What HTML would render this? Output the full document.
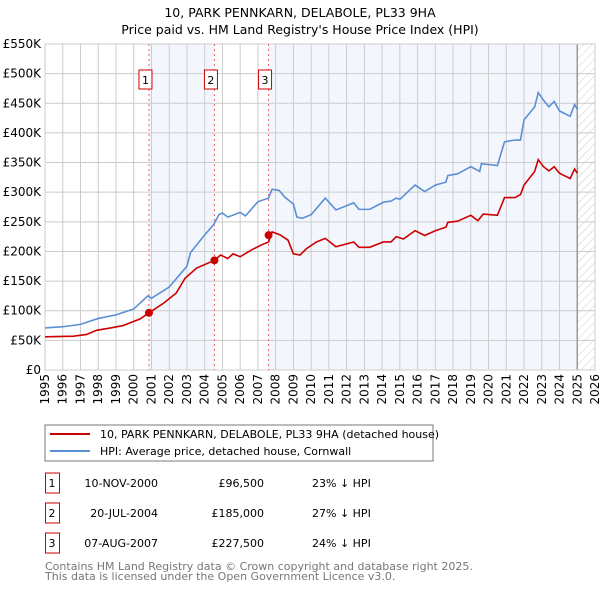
<!DOCTYPE html>
<html><head><meta charset="utf-8"><style>
body{margin:0;background:#fff}
svg text{font-family:"DejaVu Sans","Liberation Sans",sans-serif}
</style></head><body>
<svg id="chart" width="600" height="590" viewBox="0 0 600 590">
<text x="300" y="17" text-anchor="middle" font-size="12.5">10, PARK PENNKARN, DELABOLE, PL33 9HA</text>
<text x="300" y="34" text-anchor="middle" font-size="12.5">Price paid vs. HM Land Registry's House Price Index (HPI)</text>
<g id="plot"></g>
<rect x="45" y="425" width="388" height="36" fill="#fff" stroke="#777"/>
<line x1="50" y1="434" x2="90" y2="434" stroke="#cc0000" stroke-width="2"/>
<text x="100" y="438" font-size="11">10, PARK PENNKARN, DELABOLE, PL33 9HA (detached house)</text>
<line x1="50" y1="451" x2="90" y2="451" stroke="#5b8fd4" stroke-width="2"/>
<text x="100" y="455" font-size="11">HPI: Average price, detached house, Cornwall</text>
<g id="table" font-size="11"></g>
<text x="45" y="570" font-size="11" fill="#777">Contains HM Land Registry data © Crown copyright and database right 2025.</text>
<text x="45" y="580" font-size="11" fill="#777">This data is licensed under the Open Government Licence v3.0.</text>
</svg>
<script>
const hpiYears=[1995,1996,1997,1998,1999,2000,2000.8,2001,2002,2003,2003.2,2004,2004.5,2004.8,2005,2005.3,2006,2006.3,2007,2007.6,2007.8,2008.2,2008.5,2009,2009.2,2009.5,2010,2010.8,2011.4,2012.4,2012.7,2013.3,2014.07,2014.5,2014.8,2015,2015.86,2016.4,2017,2017.6,2017.7,2018.25,2019,2019.5,2019.6,2020.5,2020.9,2021.5,2021.8,2022,2022.6,2022.8,2023.1,2023.4,2023.7,2024,2024.6,2024.85,2025];
const hpiValues=[71,73,77,87,93,103,125,121,140,175,198,228,245,262,265,258,266,260,284,290,305,303,292,280,258,256,262,290,270,282,271,271,283,285,290,288,312,301,312,317,328,331,343,335,348,345,385,388,388,422,444,468,455,444,453,437,428,448,440];
const redYears=[1995,1996.6,1997.35,1997.9,1998.7,1999.4,2000.35,2000.86,2001.7,2002.4,2002.9,2003.55,2004.55,2004.9,2005.3,2005.6,2006,2006.6,2007.2,2007.6,2007.8,2008.25,2008.7,2009,2009.37,2009.75,2010.3,2010.8,2011.4,2012.4,2012.7,2013.3,2014.07,2014.5,2014.8,2015.2,2015.86,2016.4,2017,2017.6,2017.7,2018.25,2019,2019.4,2019.7,2020.5,2020.9,2021.5,2021.8,2022,2022.6,2022.8,2023.1,2023.4,2023.7,2024,2024.6,2024.85,2025];
const redValues=[56,57,60,67,71,75,86,96.5,113,130,155,172,185,194,188,196,191,202,211,216,233,228,219,196,194,205,216,222,208,216,207,207,216,216,225,221,235,227,235,241,249,251,261,252,263,261,291,291,296,312,335,355,343,336,343,332,323,339,332];
const saleYears=[2000.86,2004.55,2007.6];
const saleValues=[96.5,185,227.5];
const saleLabels=["1","2","3"];
const saleDates=["10-NOV-2000","20-JUL-2004","07-AUG-2007"];
const salePrices=["£96,500","£185,000","£227,500"];
const saleDiffs=["23% ↓ HPI","27% ↓ HPI","24% ↓ HPI"];
const yTicks=[0,50,100,150,200,250,300,350,400,450,500,550];
const yTickLabels=["£0","£50K","£100K","£150K","£200K","£250K","£300K","£350K","£400K","£450K","£500K","£550K"];
const xTicks=[1995,1996,1997,1998,1999,2000,2001,2002,2003,2004,2005,2006,2007,2008,2009,2010,2011,2012,2013,2014,2015,2016,2017,2018,2019,2020,2021,2022,2023,2024,2025,2026];
const dataEnd=2025.0;

const L=45,R=595,T=44,B=370;
const X=y=>L+(y-1995)/(2026-1995)*(R-L);
const Y=v=>B-v/550*(B-T);
const NS="http://www.w3.org/2000/svg";
const g=document.getElementById('plot');
function mk(tag,attrs,parent){const e=document.createElementNS(NS,tag);for(const k in attrs)e.setAttribute(k,attrs[k]);(parent||g).appendChild(e);return e;}

const defs=mk('defs',{});
const pat=mk('pattern',{id:'hatch',width:6,height:6,patternUnits:'userSpaceOnUse',patternTransform:'rotate(45)'},defs);
mk('line',{x1:0,y1:0,x2:0,y2:6,stroke:'#ccc','stroke-width':1},pat);

let sh=mk('rect',{x:X(saleYears[0]),y:T,width:X(saleYears[1])-X(saleYears[0]),height:B-T,fill:'#eef3fc',opacity:0.7});

sh=mk('rect',{x:X(saleYears[2]),y:T,width:X(dataEnd)-X(saleYears[2]),height:B-T,fill:'#eef3fc',opacity:0.7});

sh=mk('rect',{x:X(dataEnd),y:T,width:R-X(dataEnd),height:B-T,fill:'url(#hatch)'});


yTicks.forEach((v,i)=>{
  const l=mk('line',{x1:L,x2:R,y1:Y(v),y2:Y(v),stroke:'#ccc'});
  
  const t=mk('text',{x:L-4,y:Y(v)+4,'text-anchor':'end','font-size':12});
  
  t.textContent=yTickLabels[i];
});
xTicks.forEach(yr=>{
  const l=mk('line',{x1:X(yr),x2:X(yr),y1:T,y2:B,stroke:'#ccc'});
  
  const t=mk('text',{x:0,y:0,'text-anchor':'end','font-size':12,transform:`translate(${X(yr)+4},${B+4}) rotate(-90)`});
  
  t.textContent=yr;
});
const ed=mk('line',{x1:X(dataEnd),x2:X(dataEnd),y1:T,y2:B,stroke:'#999','stroke-width':1.5});

const fr=mk('rect',{x:L,y:T,width:R-L,height:B-T,fill:'none',stroke:'#ccc'});


saleYears.forEach((yr,i)=>{
  const l=mk('line',{x1:X(yr),x2:X(yr),y1:T,y2:B,stroke:'#e66','stroke-dasharray':'2,3'});
  
  const r=mk('rect',{x:X(yr)-10,y:70,width:13,height:19,fill:'#fff',stroke:'#c00'});
  
  const t=mk('text',{x:X(yr)-3.5,y:84,'text-anchor':'middle','font-size':11});
  
  t.textContent=saleLabels[i];
});

const hp=mk('polyline',{points:hpiYears.map((y,i)=>X(y)+','+Y(hpiValues[i])).join(' '),fill:'none',stroke:'#5b8fd4','stroke-width':1.6});

const rp=mk('polyline',{points:redYears.map((y,i)=>X(y)+','+Y(redValues[i])).join(' '),fill:'none',stroke:'#cc0000','stroke-width':1.6});

saleYears.forEach((yr,i)=>{
  const c=mk('circle',{cx:X(yr),cy:Y(saleValues[i]),r:4,fill:'#cc0000'});
  
});

const tb=document.getElementById('table');
saleLabels.forEach((s,i)=>{
  const y=473+i*30;
  const r=mk('rect',{x:45.5,y:y,width:14,height:20,fill:'#fff',stroke:'#c00'},tb);
  
  const cells=[[52,s,'middle'],[158,saleDates[i],'end'],[264,salePrices[i],'end'],[312,saleDiffs[i],'start']];
  cells.forEach(c=>{
    const t=mk('text',{x:c[0],y:y+14,'text-anchor':c[2]},tb);
    
    t.textContent=c[1];
  });
});
</script>
</body></html>
